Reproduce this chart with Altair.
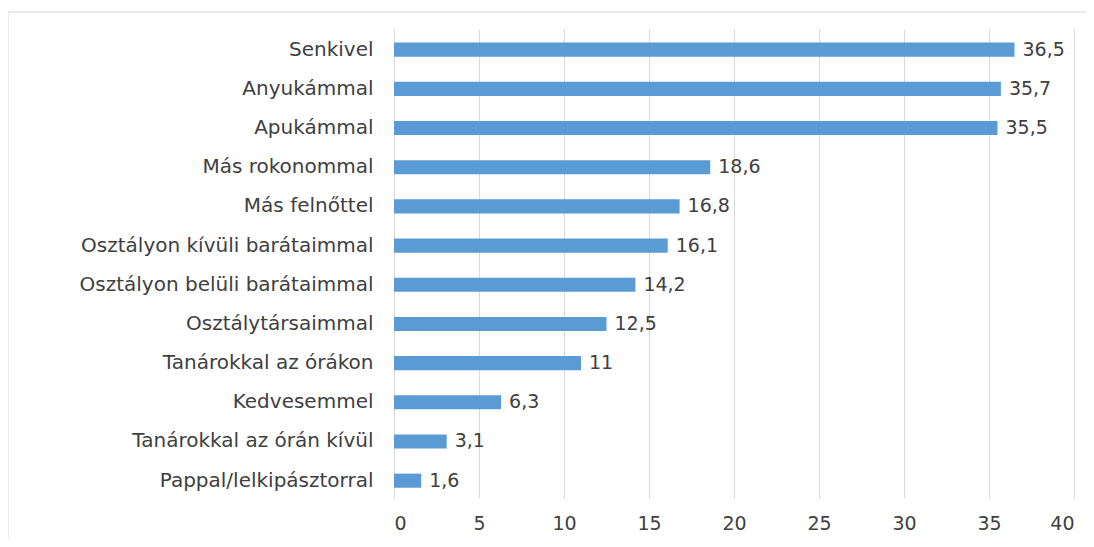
import altair as alt
import pandas as pd

categories = [
    "Senkivel",
    "Anyukámmal",
    "Apukámmal",
    "Más rokonommal",
    "Más felnőttel",
    "Osztályon kívüli barátaimmal",
    "Osztályon belüli barátaimmal",
    "Osztálytársaimmal",
    "Tanárokkal az órákon",
    "Kedvesemmel",
    "Tanárokkal az órán kívül",
    "Pappal/lelkipásztorral",
]
values = [36.5, 35.7, 35.5, 18.6, 16.8, 16.1, 14.2, 12.5, 11, 6.3, 3.1, 1.6]
labels = ["36,5", "35,7", "35,5", "18,6", "16,8", "16,1", "14,2", "12,5", "11", "6,3", "3,1", "1,6"]
x_ticks = [0, 5, 10, 15, 20, 25, 30, 35, 40]

df = pd.DataFrame({"cat": categories, "val": values, "lab": labels})

FONT = "DejaVu Sans"
TXT = "#404040"
FS = 19

y_enc = alt.Y(
    "cat:N",
    sort=categories,
    title=None,
    scale=alt.Scale(paddingInner=0.64, paddingOuter=0.305, align=0.57),
    axis=alt.Axis(
        ticks=False, domain=False, labelPadding=21, labelFont=FONT,
        labelFontSize=20, labelColor=TXT, labelLimit=400,
    ),
)
x_enc = alt.X(
    "val:Q",
    title=None,
    scale=alt.Scale(domain=[0, 40], nice=False, zero=True),
    axis=alt.Axis(
        values=x_ticks, ticks=False, domain=False, grid=True, gridColor="#d9d9d9",
        gridWidth=1, labelPadding=31, labelFont=FONT, labelFontSize=FS,
        labelColor=TXT, labelBaseline="alphabetic",
    ),
)

bars = alt.Chart(df).mark_bar(color="#5B9BD5").encode(x=x_enc, y=y_enc)
text = alt.Chart(df).mark_text(
    align="left", baseline="middle", dx=8, font=FONT, fontSize=FS, color=TXT
).encode(x="val:Q", y=alt.Y("cat:N", sort=categories), text="lab:N")

frame_data = alt.Data(values=[{"a": 1}])
frame_left = alt.Chart(frame_data).mark_rule(color="#d9d9d9", strokeWidth=1).encode(
    x=alt.value(-386), y=alt.value(-17), y2=alt.value(560)
)
frame_top = alt.Chart(frame_data).mark_rule(color="#d9d9d9", strokeWidth=1).encode(
    x=alt.value(-386), x2=alt.value(720), y=alt.value(-17)
)

chart = (
    alt.layer(bars, text, frame_left, frame_top)
    .properties(
        width=680,
        height=469,
        padding={"left": 386, "top": 21, "right": 12, "bottom": 41},
        autosize=alt.AutoSizeParams(type="none"),
    )
    .configure_view(stroke=None)
)

chart.save("out.html", embed_options={"renderer": "svg", "actions": False})
